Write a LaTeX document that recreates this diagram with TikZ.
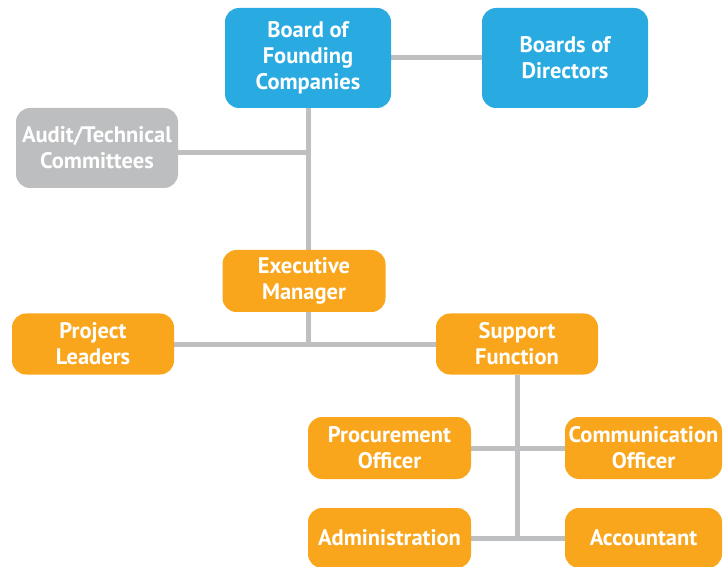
\documentclass[tikz,border=0pt]{standalone}
\usepackage{fontspec}
\setmainfont{PT Sans}
\usetikzlibrary{backgrounds}
\definecolor{cblue}{HTML}{29ABE2}
\definecolor{corange}{HTML}{F9A61C}
\definecolor{cgray}{HTML}{BDBEC0}
\definecolor{cline}{HTML}{BEBFC1}
\tikzset{
  box/.style={rectangle, rounded corners=14pt, text=white, align=center,
    font=\fontsize{22.5}{26}\selectfont\bfseries, inner sep=0pt},
  bluebox/.style={box, fill=cblue},
  orangebox/.style={box, fill=corange},
  graybox/.style={box, fill=cgray},
  link/.style={draw=cline, line width=5pt}
}
\begin{document}
\begin{tikzpicture}[x=1pt,y=-1pt]
\useasboundingbox (0,0) rectangle (724,567);
\node[bluebox, minimum width=166pt, minimum height=100pt] (bfc) at (308,58) {Board of\\Founding\\Companies};
\node[bluebox, minimum width=166pt, minimum height=100pt] (bod) at (565,58) {Boards of\\Directors};
\node[graybox, minimum width=162pt, minimum height=80pt] (audit) at (97,148) {Audit/Technical\\Committees};
\node[orangebox, minimum width=163pt, minimum height=62pt] (exec) at (304,281) {Executive\\Manager};
\node[orangebox, minimum width=162pt, minimum height=61pt] (proj) at (93,344) {Project\\Leaders};
\node[orangebox, minimum width=162pt, minimum height=61pt] (supp) at (517,344) {Support\\Function};
\node[orangebox, minimum width=163pt, minimum height=62pt] (proc) at (389.5,448) {Procurement\\Officer};
\node[orangebox, minimum width=157pt, minimum height=62pt] (comm) at (643.5,448) {Communication\\Officer};
\node[orangebox, minimum width=163pt, minimum height=60pt] (admin) at (389.5,538) {Administration};
\node[orangebox, minimum width=157pt, minimum height=60pt] (acct) at (643.5,538) {Accountant};
\coordinate (ja) at (308,153);
\coordinate (j1) at (308,343);
\coordinate (j2) at (517,538);
\begin{scope}[on background layer]
\draw[link] (bfc.east) -- (bod.west);
\draw[link] (bfc.south) -- (j1);
\draw[link] (ja -| audit.east) -- (ja);
\draw[link] (proj.east) -- (supp.west);
\draw[link] (supp.south) -- (j2);
\draw[link] (proc.east) -- (comm.west);
\draw[link] (admin.east) -- (acct.west);
\end{scope}
\end{tikzpicture}
\end{document}
